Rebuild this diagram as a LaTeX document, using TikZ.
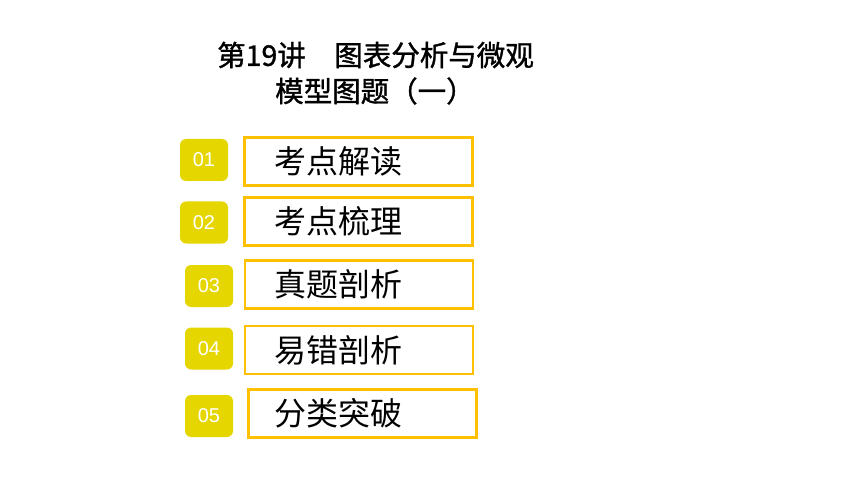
\documentclass[tikz,border=0pt]{standalone}
\usepackage{fontspec}
\setmainfont{Liberation Sans}
\newfontfamily\cjk{Noto Sans CJK SC}
\newfontfamily\cjktitle[FakeBold=1.2]{Noto Sans CJK SC}

\definecolor{badgeyellow}{RGB}{230,214,0}
\definecolor{frameorange}{RGB}{255,192,0}

\tikzset{
	badge/.style={fill=badgeyellow, rounded corners=6pt, minimum width=48pt, minimum height=42pt, inner sep=0pt, text=white, font=\fontsize{20}{20}\selectfont},
	itembox/.style={draw=frameorange, line width=2.4pt, minimum width=228pt, minimum height=48pt, inner sep=0pt},
	itemtext/.style={anchor=west, inner sep=0pt, font=\cjk\fontsize{32}{32}\selectfont},
	titletext/.style={anchor=west, inner sep=0pt, font=\cjktitle\fontsize{28.5}{28.5}\selectfont}
}

\begin{document}
\begin{tikzpicture}[x=1pt,y=-1pt]
\useasboundingbox (0,0) rectangle (860,484);

%title
\node[titletext] (title1) at (217,55) {第19讲\hspace{1em}图表分析与微观};
\node[titletext] (title2) at (275,91) {模型图题（一）};

%numbered badges, frames and their texts
\foreach \n/\bx/\by/\cx/\cy/\t in {
	01/204/160/358.5/161.5/考点解读,
	02/204/222.5/358.5/221.5/考点梳理,
	03/209/286/359/284.5/真题剖析,
	04/209/348.5/359/350/易错剖析,
	05/209/416/362.5/413.5/分类突破}{
	\node[badge] (badge\n) at (\bx,\by) {\n};
	\node[itembox] (item\n) at (\cx,\cy) {};
	\node[itemtext] (text\n) at (274,\cy) {\t};
}
\end{tikzpicture}
\end{document}
